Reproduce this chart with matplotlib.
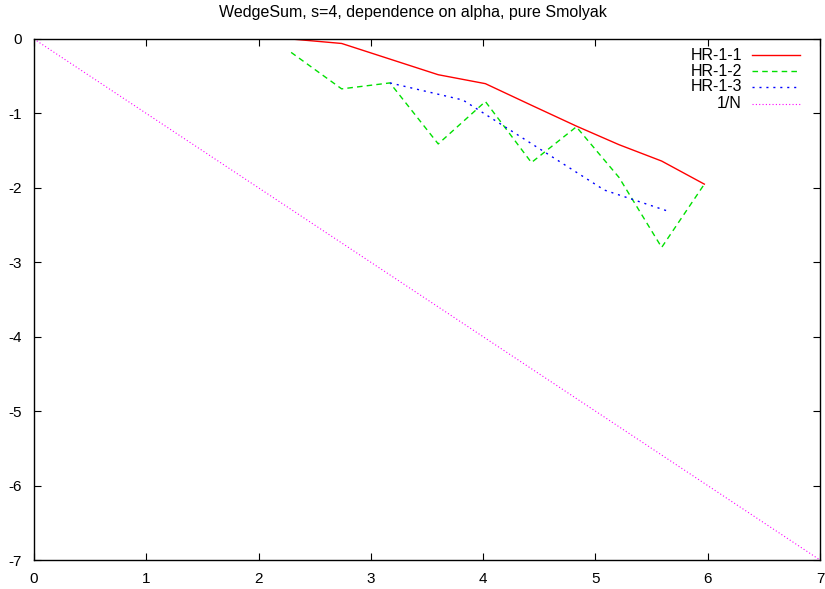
import matplotlib
matplotlib.use("Agg")
import matplotlib.pyplot as plt
from matplotlib.lines import Line2D

plt.rcParams['font.family'] = ['Liberation Sans', 'DejaVu Sans']

title = "WedgeSum, s=4, dependence on alpha, pure Smolyak"

x_grid = [2.29, 2.74, 3.17, 3.60, 4.02, 4.43, 4.83, 5.21, 5.59, 5.97]
hr11_y = [0.0, -0.06, -0.27, -0.48, -0.60, -0.89, -1.17, -1.42, -1.64, -1.95]
hr12_y = [-0.18, -0.67, -0.59, -1.41, -0.84, -1.66, -1.18, -1.86, -2.80, -1.95]

hr13_x = [3.17, 3.82, 5.08, 5.66]
hr13_y = [-0.59, -0.82, -2.03, -2.32]

invn_x = [0, 7]
invn_y = [0, -7]

xticks = [0, 1, 2, 3, 4, 5, 6, 7]
yticks = [0, -1, -2, -3, -4, -5, -6, -7]

fig = plt.figure(figsize=(8.25, 5.89), dpi=100)
ax = fig.add_axes([34/825, 1-560/589, (820-34)/825, (560-39)/589])

styles = [
    dict(color='#ff0000', lw=1.0, dashes=None),
    dict(color='#00e000', lw=1.0, dashes=(4, 3)),
    dict(color='#0000ff', lw=1.0, dashes=(1.5, 3.5)),
    dict(color='#ff00ff', lw=0.8, dashes=(1, 2)),
]

def draw(target, xs, ys, st, **kw):
    if st['dashes'] is None:
        return target.plot(xs, ys, color=st['color'], lw=st['lw'], **kw)
    return target.plot(xs, ys, color=st['color'], lw=st['lw'], dashes=st['dashes'], **kw)

draw(ax, x_grid, hr11_y, styles[0])
draw(ax, x_grid, hr12_y, styles[1])
draw(ax, hr13_x, hr13_y, styles[2])
draw(ax, invn_x, invn_y, styles[3])

ax.set_xlim(0, 7)
ax.set_ylim(-7, 0)
ax.set_xticks(xticks)
ax.set_yticks(yticks)
ax.set_xticklabels([str(v) for v in xticks])
ax.set_yticklabels([str(v) for v in yticks])
ax.tick_params(direction='in', length=5, width=0.8, top=True, right=True,
               labelsize=11, pad=8.5)
for s in ax.spines.values():
    s.set_linewidth(1.0)

fig.text(0.5, 1-12/589, title, ha='center', va='center', fontsize=11.5)

# legend (gnuplot style: label right-aligned, sample to the right)
labels = ["HR-1-1", "HR-1-2", "HR-1-3", "1/N"]
ys = [55, 71, 87, 104]
for lab, st, yp in zip(labels, styles, ys):
    yf = 1 - yp/589
    fig.text(742/825, yf, lab, ha='right', va='center', fontsize=11.5)
    kw = dict(color=st['color'], lw=st['lw'])
    if st['dashes'] is not None:
        kw['dashes'] = st['dashes']
    fig.add_artist(Line2D([752/825, 800/825], [yf, yf], **kw))

fig.savefig("out.png", dpi=100)
